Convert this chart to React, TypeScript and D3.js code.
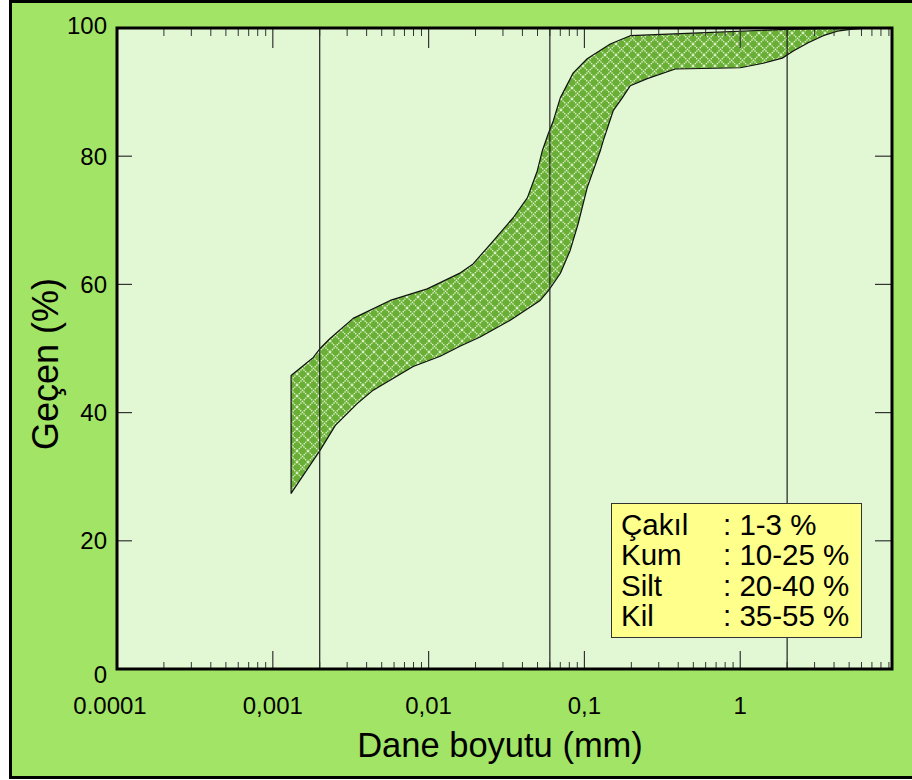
import React from "react";
import * as d3 from "d3";

// Grain-size envelope: upper and lower bounding curves (size in mm, % passing)
const upperSize = [0.00131, 0.00182, 0.00201, 0.00234, 0.00328, 0.00567, 0.0098, 0.016, 0.0193, 0.026, 0.0349, 0.043, 0.0498, 0.0536, 0.0586, 0.0631, 0.07, 0.0848, 0.1042, 0.1465, 0.1968, 0.499, 2.0, 5.08, 6.83];
const upperPass = [45.8, 48.6, 50.0, 51.6, 54.7, 57.5, 59.3, 61.8, 63.2, 66.8, 70.4, 73.5, 77.7, 80.8, 83.5, 85.5, 89.1, 93.0, 95.2, 97.5, 98.8, 99.2, 99.8, 100, 100];

const lowerSize = [0.00131, 0.00201, 0.00252, 0.00348, 0.00441, 0.00796, 0.01187, 0.016, 0.0214, 0.0334, 0.052, 0.0586, 0.07, 0.081, 0.0912, 0.1042, 0.1263, 0.132, 0.153, 0.175, 0.197, 0.253, 0.383, 1.0, 1.405, 1.86, 2.19, 2.73, 3.41, 4.2, 5.08, 6.83];
const lowerPass = [27.4, 34.1, 38.0, 41.4, 43.5, 47.2, 48.8, 50.4, 51.8, 54.4, 57.5, 59.0, 61.7, 65.3, 69.5, 75.1, 80.8, 82.4, 87.1, 89.1, 91.0, 92.1, 93.6, 93.8, 94.5, 95.3, 96.4, 97.7, 98.8, 99.5, 99.8, 100];

// Clay/silt, silt/sand and sand/gravel boundaries (mm)
const boundarySizes = [0.002, 0.06, 2];

const xTickValues = [0.0001, 0.001, 0.01, 0.1, 1];
const xTickLabels = ["0.0001", "0,001", "0,01", "0,1", "1"];
const yTickValues = [0, 20, 40, 60, 80, 100];

const legendNames = ["Çakıl", "Kum", "Silt", "Kil"];
const legendRanges = [": 1-3 %", ": 10-25 %", ": 20-40 %", ": 35-55 %"];

const FONT = "'Liberation Sans', Arial, sans-serif";

export default function App() {
  const left = 117;
  const right = 892;
  const top = 28;
  const bottom = 669;

  const x = d3.scaleLog().domain([0.0001, 9.42]).range([left, right]);
  const y = d3.scaleLinear().domain([0, 100]).range([bottom, top]);

  const upper: [number, number][] = upperSize.map((s, i) => [s, upperPass[i]]);
  const lower: [number, number][] = lowerSize.map((s, i) => [s, lowerPass[i]]);
  const outline = upper.concat(lower.slice().reverse());
  const bandPath = d3
    .line<[number, number]>()
    .x((d) => x(d[0]))
    .y((d) => y(d[1]))
    .curve(d3.curveLinearClosed)(outline) as string;

  // minor ticks: 2..9 within each decade, inside the domain
  const minorTicks: number[] = [];
  for (let e = -4; e <= 0; e++) {
    for (let m = 2; m <= 9; m++) {
      const v = m * Math.pow(10, e);
      if (v <= x.domain()[1]) minorTicks.push(v);
    }
  }

  const tickColor = "#333";

  return (
    <svg
      width={912}
      height={780}
      style={{ position: "absolute", left: 0, top: 0 }}
      fontFamily={FONT}
    >
      <defs>
        <pattern id="lattice" width={11} height={11} patternUnits="userSpaceOnUse">
          <rect width={11} height={11} fill="#6aaf35" />
          <path
            d="M0,0 L11,11 M11,0 L0,11"
            stroke="#e6f7d8"
            strokeWidth={1.2}
            strokeDasharray="1.4 0.9"
          />
        </pattern>
      </defs>

      {/* outer panel */}
      <rect x={10.5} y={1.5} width={920} height={776} fill="#a2e466" stroke="#000" strokeWidth={3} />

      {/* plot area */}
      <rect x={left} y={top} width={right - left} height={bottom - top} fill="#e2f7d4" />

      {/* envelope band */}
      <path d={bandPath} fill="url(#lattice)" stroke="#111" strokeWidth={1.2} strokeLinejoin="round" />

      {/* size-class boundaries */}
      {boundarySizes.map((s) => (
        <line key={s} x1={x(s)} x2={x(s)} y1={top} y2={bottom} stroke="#222" strokeWidth={1.2} />
      ))}

      {/* x ticks, bottom and top */}
      {minorTicks.map((v) => (
        <g key={"m" + v} stroke={tickColor} strokeWidth={1}>
          <line x1={x(v)} x2={x(v)} y1={bottom} y2={bottom - 7} />
          <line x1={x(v)} x2={x(v)} y1={top} y2={top + 8} />
        </g>
      ))}
      {xTickValues.map((v) => (
        <g key={"M" + v} stroke={tickColor} strokeWidth={1.2}>
          <line x1={x(v)} x2={x(v)} y1={bottom} y2={bottom - 18} />
          <line x1={x(v)} x2={x(v)} y1={top} y2={top + 20} />
        </g>
      ))}

      {/* y ticks, left and right */}
      {yTickValues.slice(1, -1).map((v) => (
        <g key={"y" + v} stroke={tickColor} strokeWidth={1.2}>
          <line x1={left} x2={left + 15} y1={y(v)} y2={y(v)} />
          <line x1={right - 17} x2={right} y1={y(v)} y2={y(v)} />
        </g>
      ))}

      {/* plot frame */}
      <rect x={left} y={top} width={right - left} height={bottom - top} fill="none" stroke="#000" strokeWidth={3} />

      {/* y tick labels */}
      {yTickValues.map((v) => (
        <text
          key={"yl" + v}
          x={107}
          y={y(v) + (v === 0 ? 5 : v === 100 ? -3 : 0)}
          textAnchor="end"
          dominantBaseline="central"
          fontSize={24}
          fill="#000"
        >
          {v}
        </text>
      ))}

      {/* x tick labels */}
      {xTickValues.map((v, i) => (
        <text
          key={"xl" + v}
          x={i === 0 ? x(v) - 7 : x(v)}
          y={714}
          textAnchor="middle"
          fontSize={24}
          fill="#000"
        >
          {xTickLabels[i]}
        </text>
      ))}

      {/* axis titles */}
      <text x={500} y={757} textAnchor="middle" fontSize={34.5} fill="#000">
        Dane boyutu (mm)
      </text>
      <text transform="translate(58,364) rotate(-90)" textAnchor="middle" fontSize={36} fill="#000">
        Geçen (%)
      </text>

      {/* composition box */}
      <g>
        <rect x={611.5} y={503.5} width={250} height={134} fill="#ffff8c" stroke="#333" strokeWidth={1} />
        {legendNames.map((n, i) => (
          <g key={n} fontSize={29.5} fill="#000">
            <text x={621} y={535 + i * 30.4}>{n}</text>
            <text x={723} y={535 + i * 30.4}>{legendRanges[i]}</text>
          </g>
        ))}
      </g>
    </svg>
  );
}
